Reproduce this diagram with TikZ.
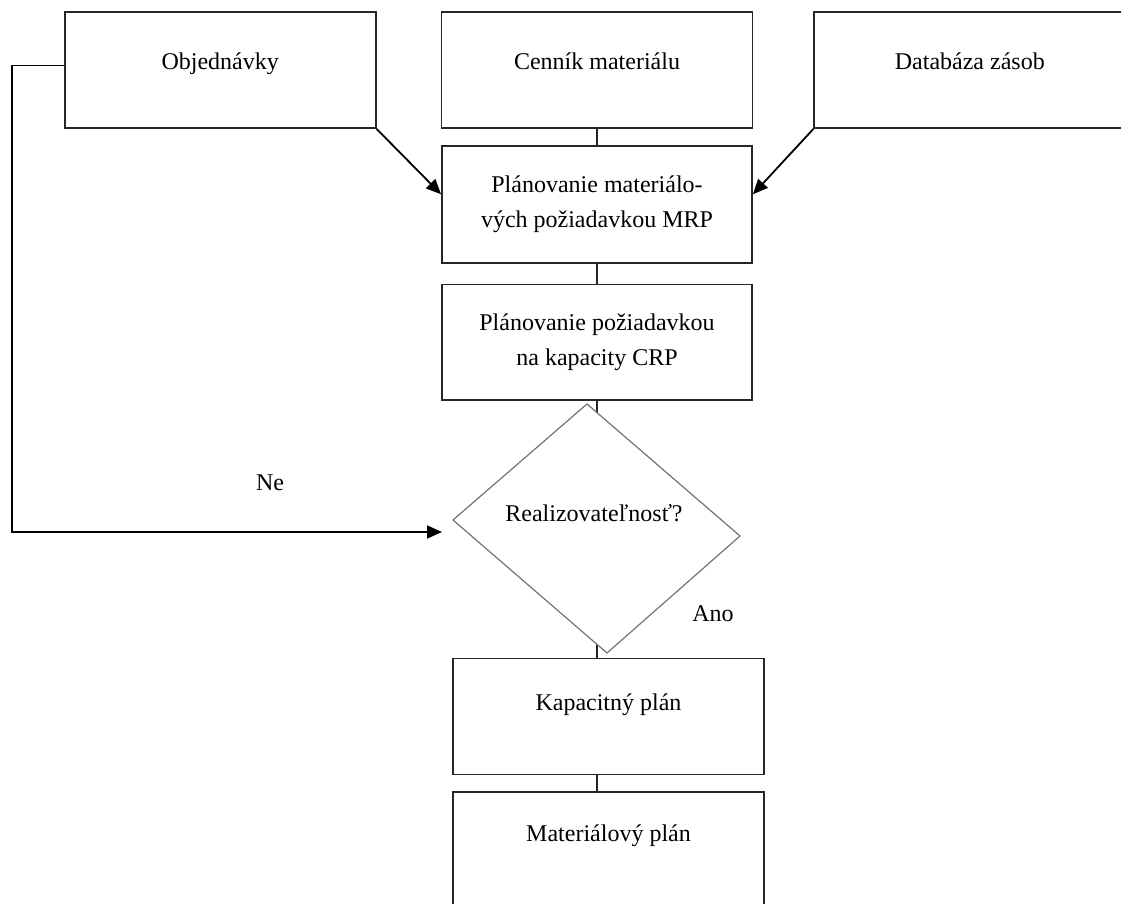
\documentclass[tikz,border=0pt]{standalone}
\usepackage{fontspec}
\setmainfont{Liberation Serif}
\usetikzlibrary{calc,positioning,arrows.meta}

\begin{document}
\begin{tikzpicture}[
        x=0.5pt, y=-0.5pt,
        font=\fontsize{12pt}{17.5pt}\selectfont,
        node distance=8pt,
        entry/.style={rectangle, draw=black!85, line width=0.9pt, minimum width=155.5pt, minimum height=58pt, text height=9pt, text depth=9pt, inner sep=0pt},
        process/.style={rectangle, draw=black!85, line width=0.9pt, minimum width=155pt, minimum height=58.5pt, align=center, inner sep=0pt},
        decision/.style={draw=black!55, line width=0.6pt, fill=white},
        link/.style={draw=black!85, line width=0.9pt},
        arrow/.style={draw=black, line width=0.9pt, -{Triangle[length=7.5pt, width=6.5pt]}}
    ]
        \useasboundingbox (0,0) rectangle (1121,904);

        % Inputs
        \node (cennik) [entry] at (597,70) {Cenník materiálu};
        \node (objed) [entry, left=32pt of cennik] {Objednávky};
        \node (zasoby) [entry, right=30pt of cennik] {Databáza zásob};

        % Planning
        \node (mrp) [process, below=8pt of cennik] {Plánovanie materiálo-\\vých požiadavkou MRP};
        \node (crp) [process, below=10pt of mrp, minimum height=57.5pt] {Plánovanie požiadavkou\\na kapacity CRP};

        % Outputs
        \node (kap) [entry, below=128.5pt of crp, xshift=5.75pt, text height=6pt, text depth=11.5pt] {Kapacitný plán};
        \node (mat) [entry, below=8pt of kap, text height=5pt, text depth=13.5pt] {Materiálový plán};

        % Links
        \draw [link] (cennik) -- (mrp);
        \draw [link] (mrp) -- (crp);
        \draw [link] (crp.south) -- (crp.south |- kap.north) node[pos=0.83, xshift=58pt] {Ano};
        \draw [link] (kap.south -| crp.south) -- (mat.north -| crp.south);
        \draw [arrow] (objed.south east) -- ([yshift=5pt]mrp.west);
        \draw [arrow] (zasoby.south west) -- ([yshift=5pt]mrp.east);

        % Feedback
        \coordinate (nebend) at (12,532);
        \coordinate (noin) at (442,532);
        \draw [arrow] (objed.mid west) -| (nebend) -- node[pos=0.6, yshift=24.5pt] {Ne} (noin);

        % Decision
        \coordinate (dc) at (597,528);
        \draw [decision] ($(dc)+(-10,-124)$) -- ($(dc)+(143,8)$) -- ($(dc)+(10,125)$) -- ($(dc)+(-144,-8)$) -- cycle;
        \node (check) [anchor=base] at ($(dc)+(-3,-7)$) {Realizovateľnosť?};
    \end{tikzpicture}
\end{document}
